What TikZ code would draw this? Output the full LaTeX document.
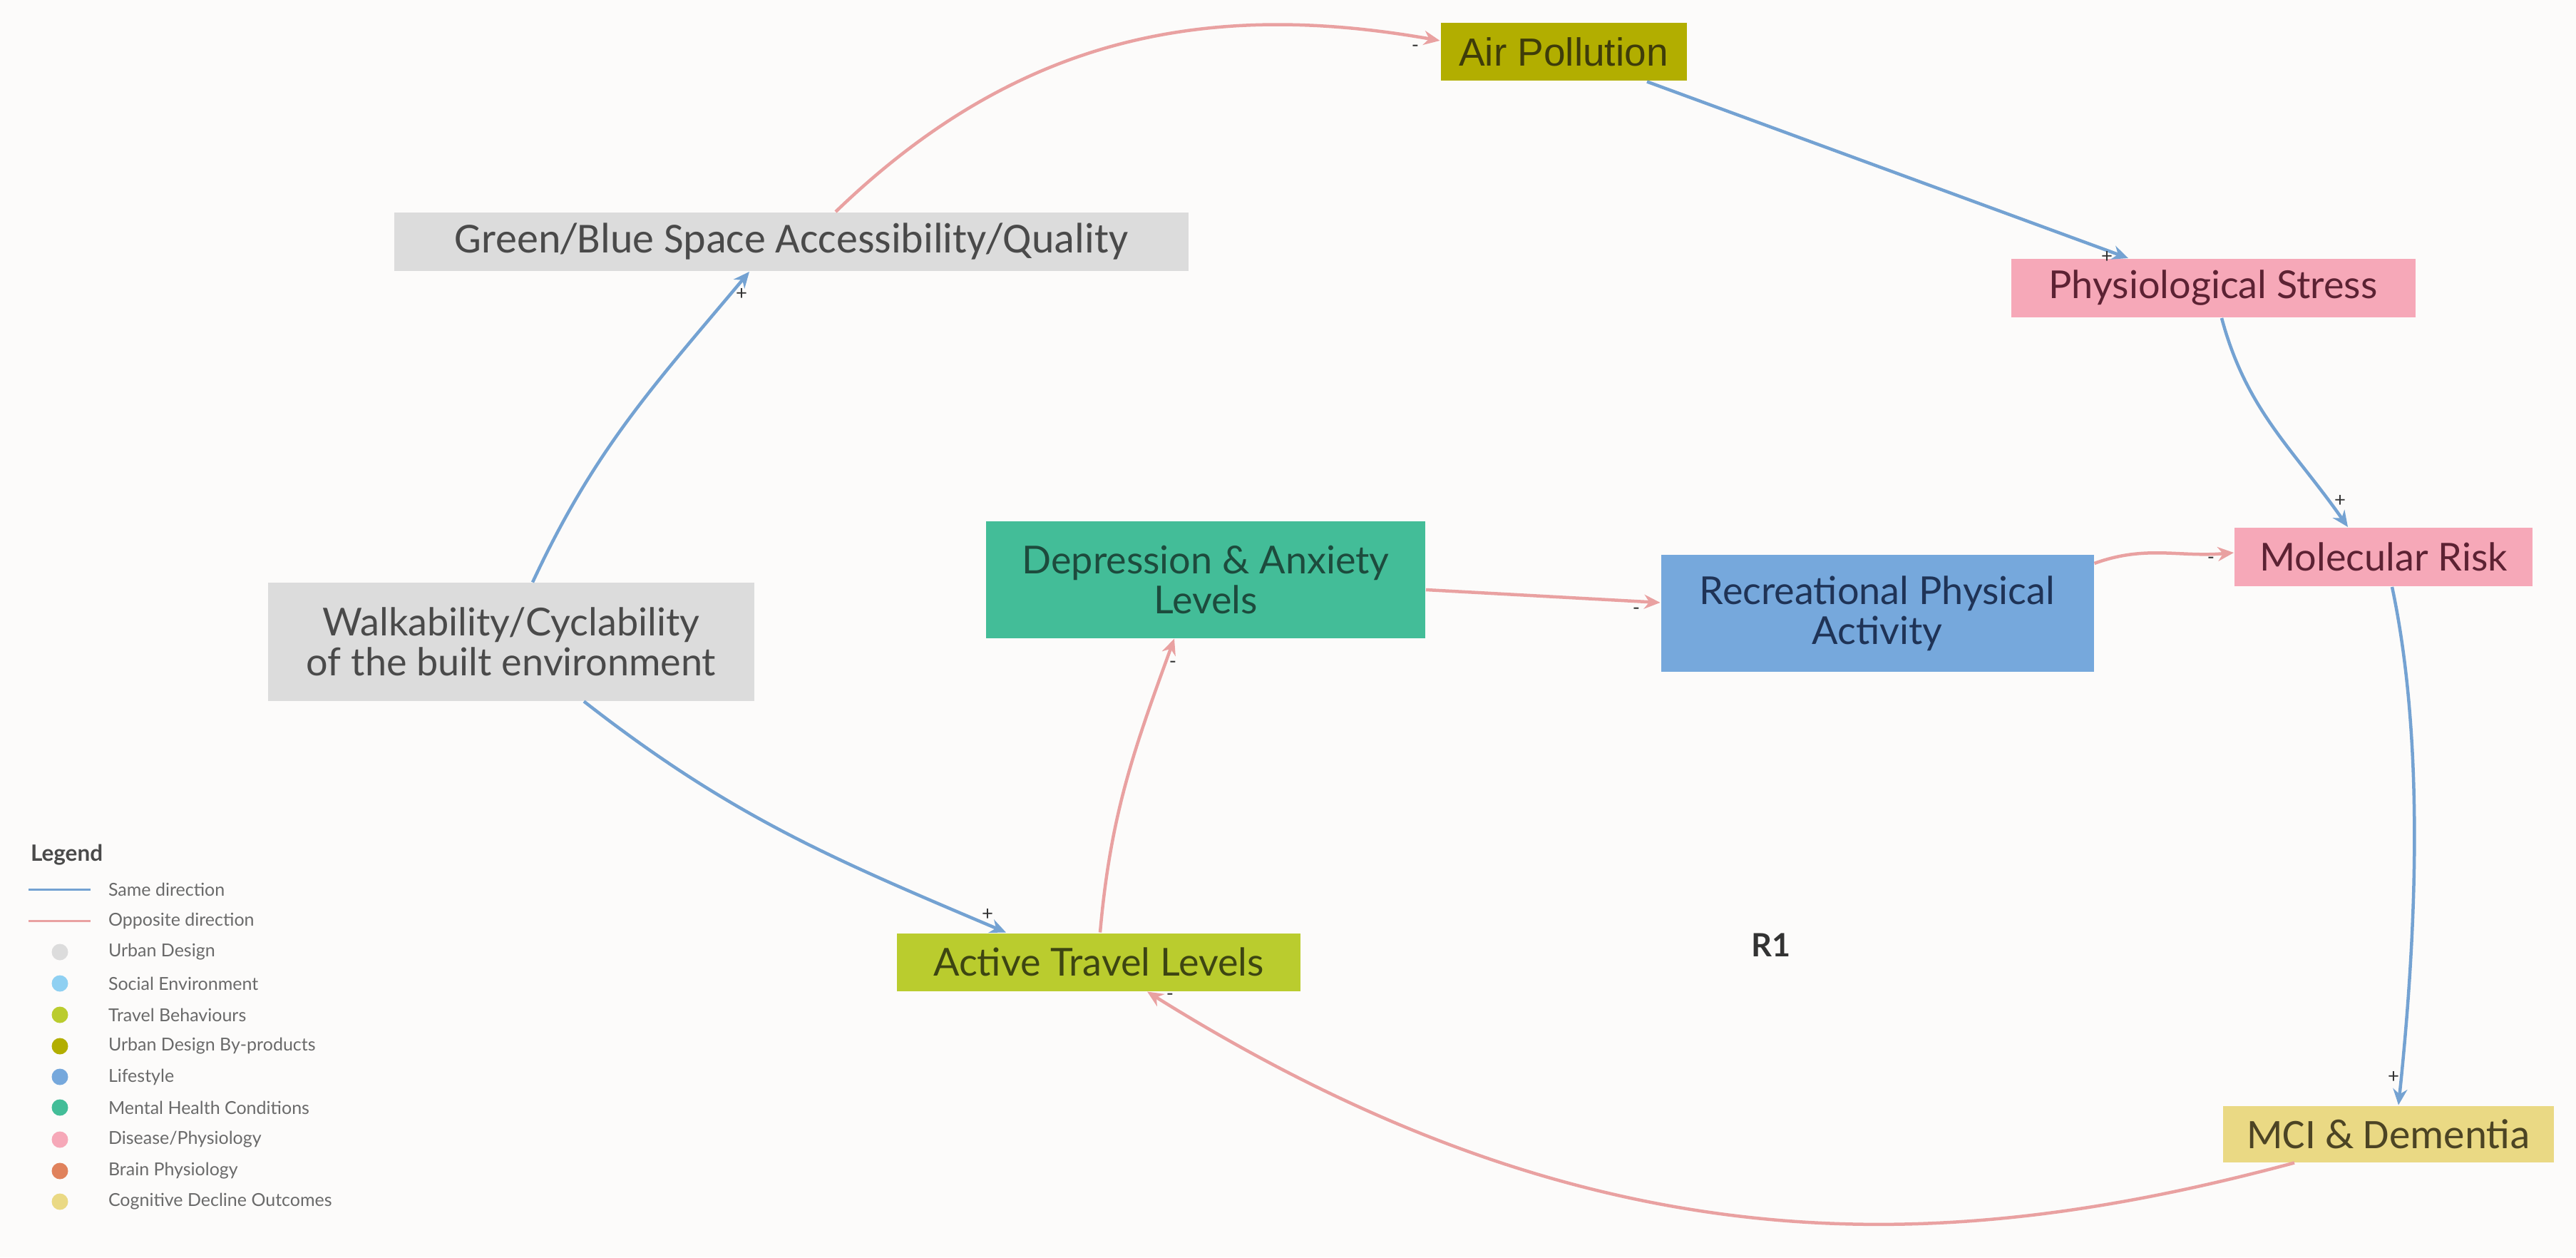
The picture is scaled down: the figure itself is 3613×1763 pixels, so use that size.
\documentclass[tikz,border=0pt]{standalone}
\usepackage{fontspec}
\setmainfont{Lato}
\newfontfamily\carlitofont{Carlito}
\newfontfamily\arialfont{Liberation Sans}
\usetikzlibrary{arrows.meta,calc}
\definecolor{bg}{HTML}{FCFBFA}
\definecolor{sameblue}{HTML}{74A2D2}
\definecolor{opppink}{HTML}{E9A1A1}
\definecolor{udgray}{HTML}{DCDCDC}
\definecolor{olivebox}{HTML}{B2AE00}
\definecolor{pinkbox}{HTML}{F6A8B8}
\definecolor{tealbox}{HTML}{43BD98}
\definecolor{lifeblue}{HTML}{76A8DC}
\definecolor{travelbox}{HTML}{BACC2E}
\definecolor{cogyellow}{HTML}{EAD984}
\definecolor{socblue}{HTML}{8FD0F2}
\definecolor{brainorange}{HTML}{E0825C}
\definecolor{udtext}{HTML}{4A4A4A}
\definecolor{olivetext}{HTML}{3E3C0A}
\definecolor{pinktext}{HTML}{5C2233}
\definecolor{tealtext}{HTML}{1D4B3D}
\definecolor{lifetext}{HTML}{1F3356}
\definecolor{traveltext}{HTML}{3D4512}
\definecolor{cogtext}{HTML}{4C4424}
\definecolor{signgray}{HTML}{333333}
\definecolor{leggray}{HTML}{6A6A6A}
\begin{document}
\begin{tikzpicture}[x=0.2pt,y=0.2pt,
  box/.style={rectangle, inner sep=0pt, align=center, font=\fontsize{10.8}{11.2}\selectfont},
  samearrow/.style={draw=sameblue, line width=0.9pt, -{Stealth[length=4.5pt,width=4pt]}},
  opparrow/.style={draw=opppink, line width=0.9pt, -{Stealth[length=4.5pt,width=4pt]}},
  signlabel/.style={font=\fontsize{5.5}{6}\selectfont, text=signgray, inner sep=0pt},
  legtext/.style={anchor=west, font=\fontsize{5}{6}\selectfont, text=leggray, inner sep=0pt},
  legdot/.style={circle, minimum size=4.6pt, inner sep=0pt}
]
\fill[bg] (0,0) rectangle (3613,1763);
\useasboundingbox (0,0) rectangle (3613,1763);

% nodes
\node[box, fill=udgray, text=udtext, minimum width=222.6pt, minimum height=16.4pt, font=\carlitofont\fontsize{12}{12.5}\selectfont] (gb) at (1110,1424) {Green/Blue Space Accessibility/Quality};
\node[box, fill=olivebox, text=olivetext, minimum width=69pt, minimum height=16.2pt, font=\arialfont\fontsize{11}{11.5}\selectfont] (ap) at (2193,1690) {Air Pollution};
\node[box, fill=pinkbox, text=pinktext, minimum width=113.4pt, minimum height=16.4pt] (ps) at (3104,1359) {Physiological Stress};
\node[box, fill=pinkbox, text=pinktext, minimum width=83.6pt, minimum height=16.4pt] (mr) at (3343,982) {Molecular Risk};
\node[box, fill=udgray, text=udtext, minimum width=136.4pt, minimum height=33pt] (wk) at (717,863) {Walkability/Cyclability\\of the built environment};
\node[box, fill=tealbox, text=tealtext, minimum width=123.2pt, minimum height=32.6pt] (dp) at (1691,950) {Depression \& Anxiety\\Levels};
\node[box, fill=lifeblue, text=lifetext, minimum width=121.4pt, minimum height=32.8pt] (rp) at (2633,903) {Recreational Physical\\Activity};
\node[box, fill=travelbox, text=traveltext, minimum width=113.2pt, minimum height=16.2pt] (at) at (1541,414) {Active Travel Levels};
\node[box, fill=cogyellow, text=cogtext, minimum width=92.8pt, minimum height=15.8pt, font=\carlitofont\fontsize{11.8}{12}\selectfont] (mc) at (3350,173) {MCI \& Dementia};
\node[font=\bfseries\fontsize{9}{10}\selectfont, text=signgray, inner sep=0pt] (r1) at (2484,438) {R1};

% connectors
\draw[samearrow] ($(wk.north)+(30,0)$) to[out=65,in=-130] ($(gb.south)+(-59,0)$);
\draw[samearrow] ($(wk.south)+(102,0)$) to[out=-38,in=157] ($(at.north)+(-130,0)$);
\draw[opparrow] ($(gb.north)+(62,0)$) to[out=44,in=170] ($(ap.west)+(0,16)$);
\draw[samearrow] ($(ap.south)+(117,0)$) -- ($(ps.north)+(-119,0)$);
\draw[samearrow] ($(ps.south)+(12,0)$) to[out=-75,in=125] ($(mr.north)+(-50,0)$);
\draw[samearrow] ($(mr.south)+(12,0)$) to[out=-78,in=84,looseness=0.8] ($(mc.north)+(14,0)$);
\draw[opparrow] ($(rp.east)+(0,70)$) to[out=20,in=185] ($(mr.west)+(0,6)$);
\draw[opparrow] ($(dp.east)+(0,-14)$) -- ($(rp.west)+(0,15)$);
\draw[opparrow] ($(at.north)+(2,0)$) to[out=85,in=-110] ($(dp.south)+(-44,0)$);
\draw[opparrow] ($(mc.south)+(-132,0)$) to[out=195,in=-32,out distance=100pt,in distance=150pt] ($(at.south)+(68,0)$);

% signs
\node[signlabel] (s1) at (1040,1351) {+};
\node[signlabel] (s2) at (1385,481) {+};
\node[signlabel] (s3) at (1985,1695) {-};
\node[signlabel] (s4) at (2955,1403) {+};
\node[signlabel] (s5) at (3282,1061) {+};
\node[signlabel] (s6) at (3357,253) {+};
\node[signlabel] (s7) at (3101,977) {-};
\node[signlabel] (s8) at (2295,906) {-};
\node[signlabel] (s9) at (1645,831) {-};
\node[signlabel] (s10) at (1641,365) {-};

% legend
\node[anchor=west, inner sep=0pt, font=\bfseries\fontsize{6.3}{7}\selectfont, text=udtext] (lg) at (42,564) {Legend};
\coordinate (l1a) at (40,516); \coordinate (l1b) at (127,516);
\coordinate (l2a) at (40,472); \coordinate (l2b) at (127,472);
\draw[sameblue, line width=0.6pt] (l1a) -- (l1b);
\draw[opppink, line width=0.6pt] (l2a) -- (l2b);
\node[legtext] (lt1) at (151,516) {Same direction};
\node[legtext] (lt2) at (151,472) {Opposite direction};
\node[legdot, fill=udgray] (d1) at (84,428) {};
\node[legdot, fill=socblue] (d2) at (84,384) {};
\node[legdot, fill=travelbox] (d3) at (84,340) {};
\node[legdot, fill=olivebox] (d4) at (84,296) {};
\node[legdot, fill=lifeblue] (d5) at (84,253) {};
\node[legdot, fill=tealbox] (d6) at (84,210) {};
\node[legdot, fill=pinkbox] (d7) at (84,165) {};
\node[legdot, fill=brainorange] (d8) at (84,121) {};
\node[legdot, fill=cogyellow] (d9) at (84,78) {};
\node[legtext] (t1) at (151,428) {Urban Design};
\node[legtext] (t2) at (151,384) {Social Environment};
\node[legtext] (t3) at (151,340) {Travel Behaviours};
\node[legtext] (t4) at (151,296) {Urban Design By-products};
\node[legtext] (t5) at (151,253) {Lifestyle};
\node[legtext] (t6) at (151,210) {Mental Health Conditions};
\node[legtext] (t7) at (151,165) {Disease/Physiology};
\node[legtext] (t8) at (151,121) {Brain Physiology};
\node[legtext] (t9) at (151,78) {Cognitive Decline Outcomes};
\end{tikzpicture}
\end{document}
